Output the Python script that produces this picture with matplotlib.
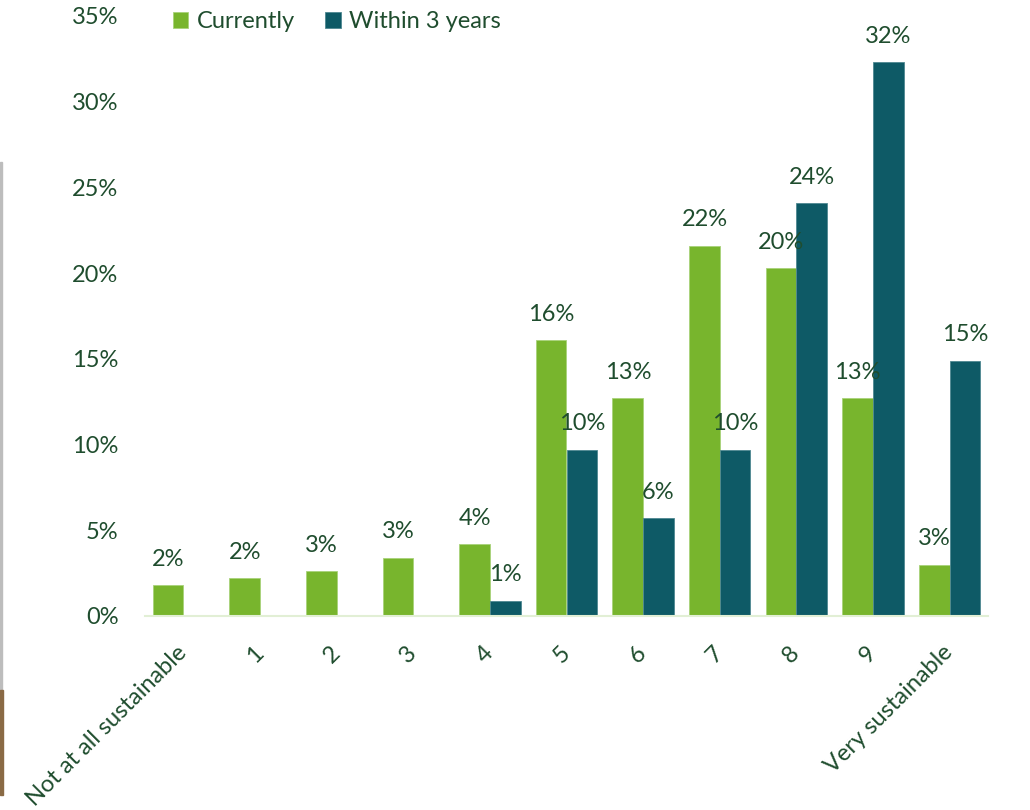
import matplotlib
matplotlib.use("Agg")
import matplotlib.pyplot as plt
import matplotlib.patches as patches
import numpy as np

plt.rcParams['font.family'] = ['Lato', 'DejaVu Sans']

categories = ['Not at all sustainable', '1', '2', '3', '4', '5', '6', '7', '8', '9',
              'Very sustainable']
currently = [1.8, 2.2, 2.6, 3.4, 4.2, 16.1, 12.7, 21.6, 20.3, 12.7, 3.0]
within_3_years = [0, 0, 0, 0, 0.9, 9.7, 5.7, 9.7, 24.1, 32.3, 14.9]
y_ticks = [0, 5, 10, 15, 20, 25, 30, 35]

green = '#78b52d'
teal = '#0e5a66'
text_col = '#1f4d2e'
fs = 17

fig = plt.figure(figsize=(10.3, 8.1), dpi=100)
ax = fig.add_axes([145 / 1030, 1 - 616 / 810, 843 / 1030, 600 / 810])

x = np.arange(len(categories))
w = 0.40
b1 = ax.bar(x - w / 2, currently, w, color=green, edgecolor='#a9d27a', linewidth=0.6,
            label='Currently')
b2 = ax.bar(x + w / 2, within_3_years, w, color=teal, edgecolor='#4f8891', linewidth=0.6,
            label='Within 3 years')

# value labels, skipping empty bars
for bars, vals in ((b1, currently), (b2, within_3_years)):
    for rect, v in zip(bars, vals):
        if v <= 0:
            continue
        ax.annotate(f'{v:.0f}%', (rect.get_x() + rect.get_width() / 2, v),
                    xytext=(0, 11), textcoords='offset points', ha='center',
                    va='bottom', fontsize=fs, color=text_col)

ax.set_xlim(-0.5, len(categories) - 0.5)
ax.set_ylim(0, 35)
ax.set_yticks(y_ticks)
ax.set_yticklabels([f'{t}%' for t in y_ticks], fontsize=fs, color=text_col)
ax.set_xticks(x)
ax.set_xticklabels(categories, fontsize=fs, color=text_col, rotation=45,
                   ha='right', va='center', rotation_mode='anchor')
ax.tick_params(axis='y', length=0, pad=19)
ax.tick_params(axis='x', length=0, pad=24)

for side in ('top', 'right', 'left'):
    ax.spines[side].set_visible(False)
ax.spines['bottom'].set_color('#e2efd5')
ax.spines['bottom'].set_linewidth(1.5)

leg = ax.legend(loc='upper left', bbox_to_anchor=(173 / 1030, 1 - 11 / 810),
                bbox_transform=fig.transFigure, ncol=2, frameon=False,
                fontsize=fs, handlelength=0.65, handleheight=0.65,
                handletextpad=0.35, columnspacing=1.3, borderpad=0,
                borderaxespad=0)
for t in leg.get_texts():
    t.set_color(text_col)

# thin strip along the left edge
fig.patches.append(patches.Rectangle((0, 1 - 690 / 810), 2 / 1030, 528 / 810,
                                     transform=fig.transFigure, color='#bdbdbd'))
fig.patches.append(patches.Rectangle((0, 1 - 795 / 810), 3 / 1030, 105 / 810,
                                     transform=fig.transFigure, color='#8a6a45'))

fig.savefig('out.png', dpi=100)
